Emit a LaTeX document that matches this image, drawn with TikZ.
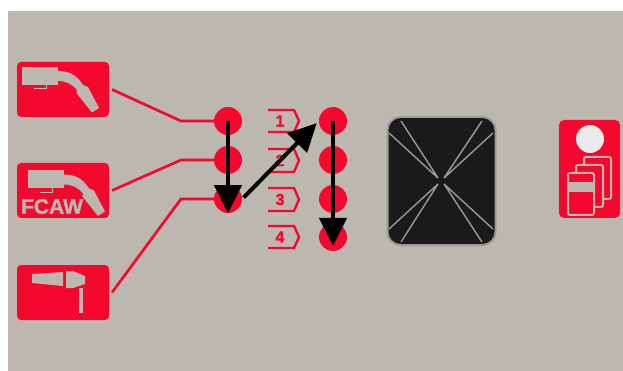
\documentclass[tikz,border=0pt]{standalone}
\usepackage{fontspec}
\setmainfont{Liberation Sans}
\newfontfamily\heavyfont[FakeBold=1.6]{Liberation Sans Bold}
\usepackage{tikz}
\usetikzlibrary{arrows.meta,positioning,calc}
\definecolor{panelgray}{HTML}{BCB8AF}
\definecolor{markred}{HTML}{F5082D}
\definecolor{screendark}{HTML}{1A1A1A}
\definecolor{screenline}{HTML}{9A9A96}
\begin{document}
\begin{tikzpicture}[
  x=1pt, y=-1pt,
  icon/.style={fill=markred, rounded corners=4pt, rectangle, inner sep=0pt, outer xsep=3pt, minimum width=92pt, minimum height=55pt},
  dot/.style={circle, fill=markred, inner sep=0pt, minimum size=28pt},
  wire/.style={draw=markred, line width=2.7pt},
  tagline/.style={draw=markred, line width=2.4pt},
  taglabel/.style={text=markred, font=\fontsize{16}{16}\heavyfont, inner sep=0pt},
  arr/.style={-{Triangle[length=28pt,width=27pt]}, line width=4pt, black},
  glyph/.style={fill=panelgray},
  torch/.pic={
    \fill[panelgray] (22,67) rectangle (58,85);
    \draw[panelgray, line width=1pt] (34,89) -- (46,89) -- (46,85);
    \fill[panelgray] (58,71) .. controls (68,71) and (76,74) .. (83,85) -- (88,87) -- (99,108) -- (92,112.5) -- (76.5,93) -- (77,90) .. controls (72,84) and (66,81) .. (58,81) -- cycle;
  }
]
\fill[white] (0,0) rectangle (623,371);
\fill[panelgray] (8,11) rectangle (623,371);

% selector icons
\node[icon] (migicon) at (63,89.5) {};
\pic at (0,0) {torch};
\node[icon] (fcawicon) at (63,190.5) {};
\pic at (6,103.5) {torch};
\node[text=panelgray, font=\fontsize{21}{21}\heavyfont, inner sep=0pt] (fcawtext) at (52,206.5) {FCAW};
\node[icon] (tigicon) at (63,292.5) {};
\fill[glyph] (32,274) -- (63,272) -- (63,286) -- (32,283) -- cycle;
\fill[glyph] (66,271) -- (73,271) -- (85,276) -- (85,284) -- (73,288) -- (66,288) -- cycle;
\fill[glyph] (79,288) rectangle (83,313);

% dots
\node[dot] (dotA) at (228,121) {};
\node[dot] (dotB) at (228,160) {};
\node[dot] (dotC) at (228,199) {};
\node[dot] (dotD) at (333,121) {};
\node[dot] (dotE) at (333,160) {};
\node[dot] (dotF) at (333,199) {};
\node[dot] (dotG) at (333,237) {};

\coordinate (bendA) at (181,121);
\coordinate (bendB) at (181,160);
\coordinate (bendC) at (181,199);
\draw[wire] (migicon.east) -- (bendA) -- (dotA.west);
\draw[wire] (fcawicon.east) -- (bendB) -- (dotB.west);
\draw[wire] (tigicon.east) -- (bendC) -- (dotC.west);

% numbered tags
\node[taglabel] (tagA) at (280,121) {1};
\node[taglabel] (tagB) at (280,160.5) {2};
\node[taglabel] (tagC) at (280,199.5) {3};
\node[taglabel] (tagD) at (280,237) {4};
\draw[tagline] (268,110) -- (294,110) -- (299,121) -- (294,132) -- (268,132);
\draw[tagline] (268,149) -- (294,149) -- (299,160.5) -- (294,172) -- (268,172);
\draw[tagline] (268,188) -- (294,188) -- (299,199.5) -- (294,211) -- (268,211);
\draw[tagline] (268,226) -- (294,226) -- (299,237) -- (294,248) -- (268,248);

% screen
\node[rectangle, draw=screenline, line width=2pt, fill=screendark, rounded corners=13pt, inner sep=0pt, minimum width=108pt, minimum height=128pt] (screen) at (441.5,181) {};
\draw[screenline, line width=1.4pt] (438,178) -- (389,133) (438,178) -- (401,121)
  (444,178) -- (493,133) (444,178) -- (482,121)
  (438,184) -- (389,229) (438,184) -- (401,242)
  (444,184) -- (493,229) (444,184) -- (482,242);

% memory icon
\node[rectangle, fill=markred, rounded corners=5pt, inner sep=0pt, minimum width=61pt, minimum height=98pt] (memicon) at (589.5,169) {};
\fill[white!92!black] (590,139) circle (14);
\draw[panelgray, line width=2pt, rounded corners=2pt] (584,157) rectangle (611,199);
\draw[panelgray, line width=2pt, rounded corners=2pt, fill=markred] (576,165) rectangle (603,207);
\draw[panelgray, line width=2pt, rounded corners=2pt, fill=markred] (568,173) rectangle (594,215);
\fill[panelgray] (568,182) rectangle (594,192);

% sequence arrows
\draw[arr] (dotA.center) -- (dotC.south);
\draw[arr, shorten >=3pt, shorten <=2pt] (dotC.east) -- (dotD.west);
\draw[arr] (dotD.center) -- ([yshift=-9pt]dotG.center);
\path[use as bounding box] (0,0) rectangle (623,371);
\end{tikzpicture}
\end{document}
